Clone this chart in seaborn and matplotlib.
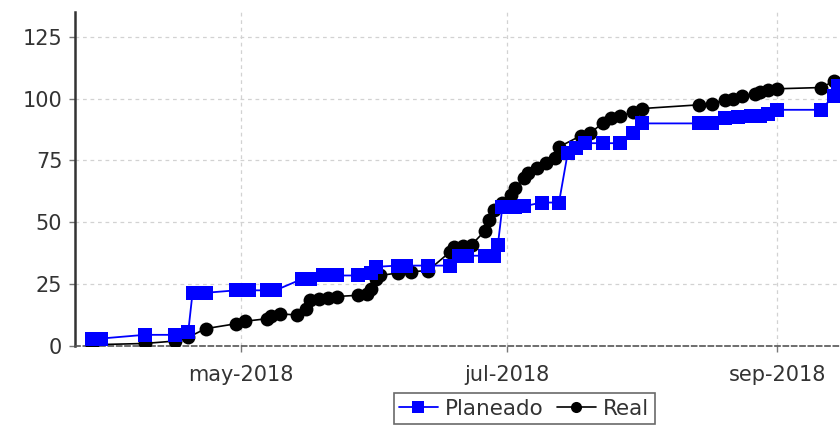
import pandas as pd
import matplotlib.pyplot as plt
import matplotlib.dates as mdates
import matplotlib.ticker as mticker
import seaborn as sns

sns.set_theme(style='white')
plt.rcParams['font.family'] = ['DejaVu Sans']

# Planeado (planned progress)
plan_fechas = ['2018-03-28', '2018-03-30', '2018-04-09', '2018-04-16', '2018-04-19',
               '2018-04-20', '2018-04-23', '2018-04-30', '2018-05-03', '2018-05-07',
               '2018-05-09', '2018-05-15', '2018-05-17', '2018-05-20', '2018-05-23',
               '2018-05-28', '2018-05-31', '2018-06-01', '2018-06-06', '2018-06-08',
               '2018-06-13', '2018-06-18', '2018-06-20', '2018-06-22', '2018-06-26',
               '2018-06-28', '2018-06-29', '2018-06-30', '2018-07-03', '2018-07-05',
               '2018-07-09', '2018-07-13', '2018-07-15', '2018-07-17', '2018-07-19',
               '2018-07-23', '2018-07-27', '2018-07-30', '2018-08-01', '2018-08-14',
               '2018-08-17', '2018-08-20', '2018-08-23', '2018-08-26', '2018-08-28',
               '2018-08-30', '2018-09-01', '2018-09-11', '2018-09-14', '2018-09-15']
plan_valores = [3, 3, 4.5, 4.5, 5.5,
                21.5, 21.5, 22.5, 22.5, 22.5,
                22.5, 27, 27, 28.5, 28.5,
                28.5, 29.5, 32, 32.5, 32.5,
                32.5, 32.5, 36.5, 36.5, 36.5,
                36.5, 41, 56, 56, 56.5,
                58, 58, 78, 80, 82,
                82, 82, 86, 90, 90,
                90, 92, 92.5, 93, 93,
                94, 95.5, 95.5, 101, 105]

# Real (actual progress)
real_fechas = ['2018-03-28', '2018-04-09', '2018-04-16', '2018-04-19', '2018-04-23',
               '2018-04-30', '2018-05-02', '2018-05-07', '2018-05-08', '2018-05-10',
               '2018-05-14', '2018-05-16', '2018-05-17', '2018-05-19', '2018-05-21',
               '2018-05-23', '2018-05-28', '2018-05-30', '2018-05-31', '2018-06-01',
               '2018-06-02', '2018-06-06', '2018-06-09', '2018-06-13', '2018-06-18',
               '2018-06-19', '2018-06-21', '2018-06-23', '2018-06-26', '2018-06-27',
               '2018-06-28', '2018-06-30', '2018-07-02', '2018-07-03', '2018-07-05',
               '2018-07-06', '2018-07-08', '2018-07-10', '2018-07-12', '2018-07-13',
               '2018-07-18', '2018-07-20', '2018-07-23', '2018-07-25', '2018-07-27',
               '2018-07-30', '2018-08-01', '2018-08-14', '2018-08-17', '2018-08-20',
               '2018-08-22', '2018-08-24', '2018-08-27', '2018-08-28', '2018-08-30',
               '2018-09-01', '2018-09-11', '2018-09-14']
real_valores = [0.5, 1, 2, 3.5, 7,
                9, 10, 11, 12, 13,
                12.5, 15, 18.5, 19, 19.5,
                20, 20.5, 21, 23, 27,
                28.5, 29.5, 30, 30.5, 38,
                40, 40.5, 41, 46.5, 51,
                55, 58, 61, 64, 68,
                70, 72, 74, 76, 80.5,
                85, 86, 90, 92, 93,
                94.5, 96, 97.5, 98, 99.5,
                100, 101, 102, 102.5, 103.5,
                104, 104.5, 107]

plan_df = pd.DataFrame({'fecha': pd.to_datetime(plan_fechas), 'valor': plan_valores})
real_df = pd.DataFrame({'fecha': pd.to_datetime(real_fechas), 'valor': real_valores})

fig = plt.figure(figsize=(8.4, 4.33), dpi=100)
ax = fig.add_axes([0.089, 0.201, 0.911, 0.771])

ax.grid(True, color='#d2d2d2', linestyle=(0, (3, 3)), linewidth=0.9)

sns.lineplot(data=real_df, x='fecha', y='valor', ax=ax, color='black',
             marker='o', markersize=10, markeredgewidth=0, linewidth=1.2,
             estimator=None, sort=False, zorder=3, label='Real')
sns.lineplot(data=plan_df, x='fecha', y='valor', ax=ax, color='#0000ff',
             marker='s', markersize=10.5, markeredgewidth=0, linewidth=1.3,
             estimator=None, sort=False, zorder=4, label='Planeado')

ax.set_xlim(pd.Timestamp('2018-03-24'), pd.Timestamp('2018-09-15 10:00'))
ax.set_ylim(0, 135)
ax.set_yticks([0, 25, 50, 75, 100, 125])
ax.xaxis.set_major_locator(mdates.MonthLocator(bymonth=[5, 7, 9]))
ax.xaxis.set_major_formatter(mticker.FuncFormatter(
    lambda v, pos: mdates.num2date(v).strftime('%b-%Y').lower()))
ax.set_xlabel('')
ax.set_ylabel('')

for s in ['top', 'right']:
    ax.spines[s].set_visible(False)
ax.spines['left'].set_color('#333333')
ax.spines['left'].set_linewidth(1.8)
ax.spines['bottom'].set_color('#555555')
ax.spines['bottom'].set_linewidth(1.2)
ax.spines['bottom'].set_linestyle((0, (3, 2)))

ax.tick_params(axis='both', which='major', labelsize=15, labelcolor='#333333',
               color='#777777', length=4, width=1, direction='out',
               left=True, bottom=True)
ax.tick_params(axis='x', pad=10)
ax.tick_params(axis='y', pad=5)

handles, labels = ax.get_legend_handles_labels()
ax.get_legend().remove()
order = [labels.index('Planeado'), labels.index('Real')]
leg = fig.legend([handles[i] for i in order], [labels[i] for i in order],
                 loc='upper center', bbox_to_anchor=(0.624, 0.092), ncol=2,
                 fontsize=15.5, frameon=True, fancybox=False, handlelength=1.8,
                 handletextpad=0.35, columnspacing=0.6, borderpad=0.25,
                 borderaxespad=0, markerscale=0.8)
leg.get_frame().set_edgecolor('#444444')
leg.get_frame().set_linewidth(1.2)
for t in leg.get_texts():
    t.set_color('#333333')

fig.savefig('out.png', dpi=100)
